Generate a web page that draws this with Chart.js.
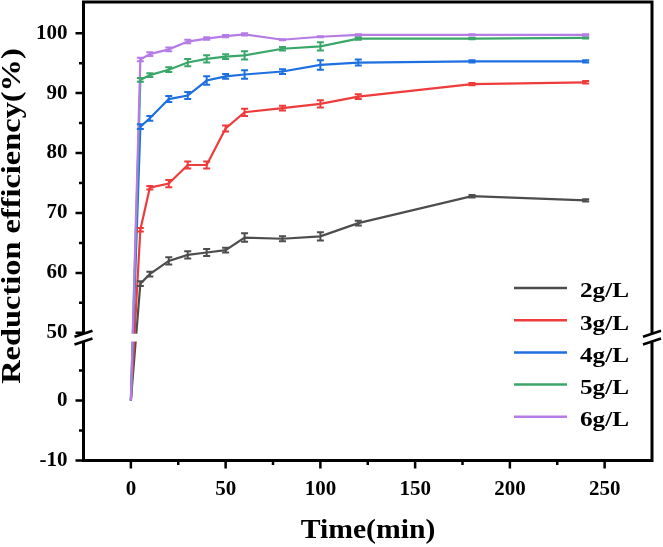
<!DOCTYPE html>
<html><head><meta charset="utf-8">
<script src="https://cdn.jsdelivr.net/npm/chart.js@4.4.1/dist/chart.umd.min.js"></script>
<style>html,body{margin:0;padding:0;background:#fff}#wrap{width:663px;height:547px}</style>
</head><body><div id="wrap"><canvas id="c" width="663" height="547"></canvas></div>
<script>
// ---- data ----
const times = [0, 5, 10, 20, 30, 40, 50, 60, 80, 100, 120, 180, 240];
const seriesNames = ['2g/L', '3g/L', '4g/L', '5g/L', '6g/L'];
const eff2g = [0, 58.2, 59.8, 62.0, 63.0, 63.4, 63.8, 65.9, 65.7, 66.1, 68.3, 72.8, 72.1];
const eff3g = [0, 67.2, 74.2, 74.9, 78.0, 78.0, 84.1, 86.8, 87.5, 88.2, 89.4, 91.5, 91.8];
const eff4g = [0, 84.4, 85.8, 89.0, 89.6, 92.1, 92.8, 93.1, 93.6, 94.7, 95.1, 95.3, 95.3];
const eff5g = [0, 92.2, 93.0, 93.9, 95.1, 95.7, 96.1, 96.3, 97.4, 97.8, 99.1, 99.1, 99.2];
const eff6g = [0, 95.6, 96.5, 97.3, 98.6, 99.1, 99.5, 99.8, 98.9, 99.4, 99.7, 99.7, 99.7];
const err2g = [0, 0.4, 0.4, 0.6, 0.6, 0.6, 0.4, 0.7, 0.4, 0.7, 0.4, 0.2, 0.2];
const err3g = [0, 0.3, 0.3, 0.6, 0.6, 0.6, 0.5, 0.6, 0.4, 0.6, 0.4, 0.2, 0.2];
const err4g = [0, 0.4, 0.4, 0.5, 0.6, 0.7, 0.4, 0.7, 0.4, 0.8, 0.5, 0.2, 0.2];
const err5g = [0, 0.3, 0.3, 0.4, 0.6, 0.6, 0.4, 0.7, 0.3, 0.7, 0.2, 0.1, 0.1];
const err6g = [0, 0.3, 0.3, 0.3, 0.3, 0.2, 0.2, 0.2, 0.1, 0.1, 0.1, 0.1, 0.1];
const xTickValues = [0, 50, 100, 150, 200, 250];
const xMinorTicks = [25, 75, 125, 175, 225];
const yTickValues = [-10, 0, 50, 60, 70, 80, 90, 100];
const yMinorTicks = [-5, 5, 55, 65, 75, 85, 95];
const xTitle = 'Time(min)';
const yTitle = 'Reduction efficiency(%)';

// ---- styles ----
const colors = ['#4d4d4d', '#ee3b3b', '#1e6fe0', '#3aa66a', '#b57ce6'];
const FONT = '"Liberation Serif", "Times New Roman", serif';

// broken axis: 0..50 collapsed to a short gap
const GAP = 11.3;
function tf(v) { return v >= 50 ? v - 50 + GAP : v; }

const effs = [eff2g, eff3g, eff4g, eff5g, eff6g];
const errs = [err2g, err3g, err4g, err5g, err6g];

const datasets = seriesNames.map((name, k) => ({
  label: name,
  data: times.map((t, i) => ({ x: t, y: tf(effs[k][i]) })),
  borderColor: colors[k],
  backgroundColor: colors[k],
  borderWidth: 2.2,
  pointRadius: 0,
  tension: 0,
  fill: false,
  order: 4 - k
}));

const decor = {
  id: 'decor',
  afterDatasetsDraw(chart) {
    const ctx = chart.ctx, xs = chart.scales.x, ys = chart.scales.y, ca = chart.chartArea;
    ctx.save();
    // error bars
    chart.data.datasets.forEach((ds, k) => {
      ctx.strokeStyle = colors[k];
      ctx.lineWidth = 2;
      times.forEach((t, i) => {
        if (i === 0) return;
        const v = effs[k][i], e = errs[k][i];
        const px = xs.getPixelForValue(t);
        const y1 = ys.getPixelForValue(tf(v + e)), y2 = ys.getPixelForValue(tf(v - e));
        ctx.beginPath();
        ctx.moveTo(px, y1); ctx.lineTo(px, y2);
        ctx.moveTo(px - 3.5, y1); ctx.lineTo(px + 3.5, y1);
        ctx.moveTo(px - 3.5, y2); ctx.lineTo(px + 3.5, y2);
        ctx.stroke();
      });
    });
    // frame
    ctx.strokeStyle = '#000';
    ctx.lineWidth = 3;
    ctx.lineCap = 'square';
    ctx.beginPath();
    ctx.moveTo(ca.left, ca.top); ctx.lineTo(ca.right, ca.top);
    ctx.lineTo(ca.right, ca.bottom); ctx.lineTo(ca.left, ca.bottom);
    ctx.closePath();
    ctx.stroke();
    ctx.lineCap = 'butt';
    // ticks
    ctx.lineWidth = 2.5;
    ctx.beginPath();
    xTickValues.forEach(v => { const p = xs.getPixelForValue(v); ctx.moveTo(p, ca.bottom); ctx.lineTo(p, ca.bottom + 8); });
    xMinorTicks.forEach(v => { const p = xs.getPixelForValue(v); ctx.moveTo(p, ca.bottom); ctx.lineTo(p, ca.bottom + 4.5); });
    yTickValues.forEach(v => { const p = ys.getPixelForValue(tf(v)); ctx.moveTo(ca.left, p); ctx.lineTo(ca.left - 8, p); });
    yMinorTicks.forEach(v => { const p = ys.getPixelForValue(tf(v)); ctx.moveTo(ca.left, p); ctx.lineTo(ca.left - 4.5, p); });
    ctx.stroke();
    // break
    const yb1 = ys.getPixelForValue(GAP - 0.15), yb2 = ys.getPixelForValue(GAP - 1.45);
    const yTop = Math.min(yb1, yb2), yBot = Math.max(yb1, yb2);
    ctx.fillStyle = '#fff';
    ctx.fillRect(ca.left - 2, yTop, ca.right - ca.left + 4, yBot - yTop);
    ctx.strokeStyle = '#000';
    ctx.lineWidth = 2.5;
    ctx.beginPath();
    [ca.left, ca.right].forEach(x0 => {
      [yTop, yBot].forEach(yc => { ctx.moveTo(x0 - 9, yc + 3); ctx.lineTo(x0 + 9, yc - 3); });
    });
    ctx.stroke();
    // legend
    chart.data.datasets.forEach((ds, k) => {
      const ly = 288 + k * 32.2;
      ctx.strokeStyle = colors[k];
      ctx.lineWidth = 2.5;
      ctx.beginPath(); ctx.moveTo(514, ly); ctx.lineTo(567, ly); ctx.stroke();
      ctx.save();
      ctx.translate(580, ly + 4);
      ctx.scale(1.2, 1);
      ctx.fillStyle = '#000';
      ctx.font = 'bold 21px ' + FONT;
      ctx.textBaseline = 'middle';
      ctx.textAlign = 'left';
      ctx.fillText(ds.label, 0, 0);
      ctx.restore();
    });
    // axis titles
    ctx.fillStyle = '#000';
    ctx.font = 'bold 27px ' + FONT;
    ctx.textAlign = 'center';
    ctx.textBaseline = 'alphabetic';
    ctx.save();
    ctx.translate(368, 537.5);
    ctx.scale(1.1, 1);
    ctx.fillText(xTitle, 0, 0);
    ctx.restore();
    ctx.save();
    ctx.translate(19.5, 216);
    ctx.rotate(-Math.PI / 2);
    ctx.scale(1.2, 1);
    ctx.fillText(yTitle, 0, 0);
    ctx.restore();
    ctx.restore();
  }
};

new Chart(document.getElementById('c'), {
  type: 'line',
  data: { datasets },
  options: {
    responsive: false,
    animation: false,
    devicePixelRatio: 1,
    layout: { padding: { top: 2, right: 11, left: 0, bottom: 0 } },
    plugins: { legend: { display: false }, tooltip: { enabled: false } },
    scales: {
      x: {
        type: 'linear', min: -25, max: 275,
        afterBuildTicks: s => { s.ticks = xTickValues.map(v => ({ value: v })); },
        afterFit: s => { s.height = 86.5; s.paddingLeft = 0; s.paddingRight = 0; },
        grid: { display: false, drawTicks: false },
        border: { display: false },
        ticks: { color: '#000', font: { family: FONT, size: 21, weight: 'bold' }, padding: 16, maxRotation: 0, autoSkip: false }
      },
      y: {
        type: 'linear', min: -10, max: 66.5,
        afterBuildTicks: s => { s.ticks = yTickValues.map(v => ({ value: tf(v) })); },
        afterFit: s => { s.width = 83.5; s.paddingTop = 0; s.paddingBottom = 0; },
        grid: { display: false, drawTicks: false },
        border: { display: false },
        ticks: { color: '#000', font: { family: FONT, size: 21, weight: 'bold' }, padding: 16, autoSkip: false,
          callback: (val, i) => String(yTickValues[i]) }
      }
    }
  },
  plugins: [decor]
});
</script></body></html>
